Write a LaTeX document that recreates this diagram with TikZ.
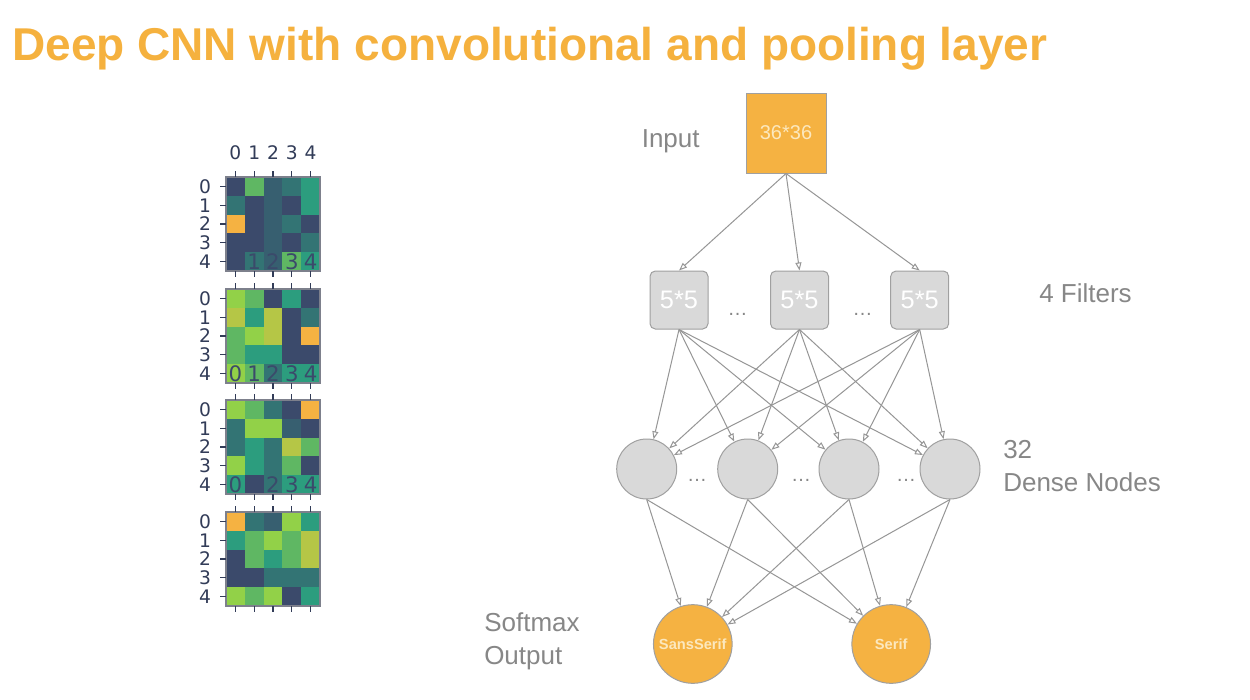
\documentclass[tikz,border=0pt]{standalone}
\usepackage{fontspec}
\setmainfont{Liberation Sans}
\newfontfamily\dejavu{DejaVu Sans}
\usetikzlibrary{arrows.meta}
\definecolor{ttl}{RGB}{245,177,62}
\definecolor{orng}{RGB}{245,178,66}
\definecolor{nodegray}{RGB}{217,217,217}
\definecolor{edgegray}{RGB}{160,160,160}
\definecolor{linegray}{RGB}{150,150,150}
\definecolor{labgray}{RGB}{135,135,135}
\definecolor{cream}{RGB}{252,232,190}
\definecolor{axis}{RGB}{50,60,88}
\definecolor{frm}{RGB}{125,128,140}
\definecolor{hm0}{RGB}{59,74,107}
\definecolor{hm1}{RGB}{55,95,112}
\definecolor{hm2}{RGB}{51,116,116}
\definecolor{hm3}{RGB}{44,157,126}
\definecolor{hm4}{RGB}{95,183,99}
\definecolor{hm5}{RGB}{146,209,72}
\definecolor{hm6}{RGB}{181,198,70}
\definecolor{hm7}{RGB}{245,178,66}
\newcommand\drawheat[3]{% #1 top y, #2 values, #3 overlay labels (1/0)
  \foreach \v [count=\k from 0] in {#2} {
    \pgfmathtruncatemacro\cc{mod(\k,5)}
    \pgfmathtruncatemacro\rr{floor(\k/5)}
    \fill[hm\v] ({226+\cc*18.8},{#1+\rr*18.8}) rectangle ++(18.8,18.8);
  }
  \draw[frm, line width=0.8pt] (226,#1) rectangle ++(94,94);
  \foreach \i in {0,...,4} {
    \draw[hmtick] ({235.4+\i*18.8},#1) -- ++(0,-6);
    \draw[hmtick] ({235.4+\i*18.8},{#1+94}) -- ++(0,6);
    \draw[hmtick] (226,{#1+9.4+\i*18.8}) -- ++(-6,0);
    \node[hmlab] at (205,{#1+9.4+\i*18.8}) {\i};
    \ifnum#3=1
      \node[hmover] at ({235.4+\i*18.8},{#1+85}) {\i};
    \fi
  }
}
\begin{document}
\begin{tikzpicture}[x=0.75pt,y=-0.75pt,
  hmtick/.style={draw=axis, line width=1pt},
  hmlab/.style={text=axis, font=\dejavu\fontsize{14}{14}\selectfont, inner sep=0pt},
  hmover/.style={text=hm0, font=\dejavu\fontsize{16}{16}\selectfont, inner sep=0pt},
  inbox/.style={draw=edgegray, fill=orng, line width=0.75pt, minimum size=60pt, inner sep=0pt, text=cream, font=\fontsize{15}{15}\selectfont},
  filt/.style={draw=edgegray, fill=nodegray, line width=0.75pt, rounded corners=4pt, minimum size=43.5pt, inner sep=0pt, text=white, font=\fontsize{19}{19}\selectfont},
  dense/.style={circle, draw=edgegray, fill=nodegray, line width=0.75pt, minimum size=45pt, inner sep=0pt},
  outn/.style={circle, draw=edgegray, fill=orng, line width=0.75pt, minimum size=59pt, inner sep=0pt, text=cream, font=\bfseries\fontsize{11}{11}\selectfont},
  lab/.style={text=labgray, font=\fontsize{19.5}{19.5}\selectfont, inner sep=0pt},
  ell/.style={text=labgray, font=\fontsize{15}{15}\selectfont, inner sep=0pt},
  conn/.style={draw=linegray, line width=0.75pt, -{Triangle[open,length=6pt,width=4.5pt]}}]
\useasboundingbox (0,0) rectangle (1250,700);
\fill[white] (0,0) rectangle (1250,700);

% title
\node[anchor=base west, inner sep=0pt, text=ttl, font=\bfseries\fontsize{34.5}{34.5}\selectfont] (title) at (12,60) {Deep CNN with convolutional and pooling layer};

% heatmaps
\foreach \i in {0,...,4} {
  \node[hmlab] (col\i) at ({235.4+\i*18.8},153) {\i};
}
\drawheat{177}{0,4,1,2,3, 2,0,1,0,3, 7,0,1,2,0, 0,0,1,0,2, 0,2,1,4,3}{1}
\drawheat{289}{5,4,0,3,0, 6,3,6,0,2, 4,5,6,0,7, 4,3,3,0,0, 5,4,2,3,3}{1}
\drawheat{400}{5,4,2,0,7, 2,5,5,1,0, 2,3,2,6,4, 5,3,2,4,0, 3,0,2,3,3}{1}
\drawheat{512}{7,2,1,5,3, 3,4,5,4,6, 0,4,3,4,6, 0,0,2,2,2, 5,4,5,0,3}{0}

% network nodes
\node[inbox] (in) at (786,133) {36*36};
\node[filt] (f1) at (679,300) {5*5};
\node[filt] (f2) at (799.5,300) {5*5};
\node[filt] (f3) at (919.7,300) {5*5};
\node[dense] (d1) at (646.7,469) {};
\node[dense] (d2) at (747.7,469) {};
\node[dense] (d3) at (849,469) {};
\node[dense] (d4) at (950,469) {};
\node[outn] (o1) at (692.8,644) {SansSerif};
\node[outn] (o2) at (891.2,644) {Serif};

% ellipses
\node[ell, anchor=base] (e1) at (737.5,315) {…};
\node[ell, anchor=base] (e2) at (862.5,315) {…};
\node[ell, anchor=base] (e3) at (697,481) {…};
\node[ell, anchor=base] (e4) at (801,481) {…};
\node[ell, anchor=base] (e5) at (906,481) {…};

% labels
\node[lab, anchor=base west] (linput) at (641.5,147) {Input};
\node[lab, anchor=base west] (lfilt) at (1039,302) {4 Filters};
\node[lab, anchor=base west] (l32) at (1003,458) {32};
\node[lab, anchor=base west] (ldense) at (1003,491) {Dense Nodes};
\node[lab, anchor=base west] (lsoft) at (484,631) {Softmax};
\node[lab, anchor=base west] (lout) at (484,664) {Output};

% connectors
\foreach \f in {f1,f2,f3} \draw[conn] (in.south) -- (\f.north);
\foreach \f in {f1,f2,f3}
  \foreach \d in {d1,d2,d3,d4}
    \draw[conn] (\f.south) -- (\d);
\foreach \d in {d1,d2,d3,d4}
  \foreach \o in {o1,o2}
    \draw[conn] (\d.south) -- (\o);
\end{tikzpicture}
\end{document}
